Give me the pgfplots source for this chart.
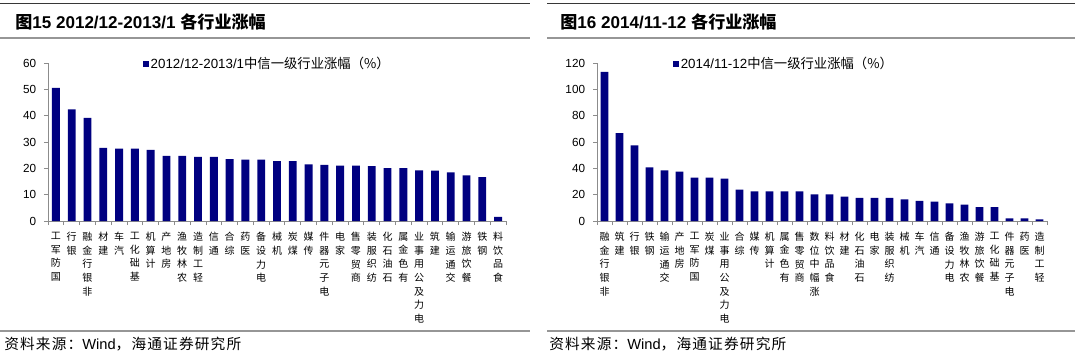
\documentclass[border=0pt]{standalone}
\usepackage{fontspec}
\setmainfont{Liberation Sans}
\newfontfamily\cjk{Noto Sans CJK SC}
\newfontfamily\cjksp[LetterSpace=8]{Noto Sans CJK SC}
\usepackage{pgfplots}
\pgfplotsset{compat=1.18}

\definecolor{barblue}{RGB}{0,0,128}
\definecolor{axgray}{RGB}{140,140,140}
\definecolor{rulegray}{RGB}{150,150,150}
\definecolor{ruledark}{RGB}{55,55,55}

\pgfplotsset{
  panel/.style={
    ybar, bar width=5.9pt,
    scale only axis,
    height=118.5pt,
    ymin=0,
    anchor=south west,
    axis x line*=bottom, axis y line*=left,
    axis line style={axgray, line width=0.6pt},
    tick align=outside,
    major tick length=3pt,
    tick style={axgray, line width=0.6pt},
    x tick label as interval,
    /pgf/number format/assume math mode=true,
    yticklabel style={font=\fontsize{8.8}{10}\selectfont, inner sep=2pt, xshift=-3.75pt},
    xticklabel style={font=\cjk\fontsize{7.5}{10.2}\selectfont, align=center, anchor=north, yshift=-2pt},
    legend image code/.code={\fill[##1] (0pt,-2.4pt) rectangle (4.6pt,2.4pt);},
    legend style={draw=none, fill=none, anchor=west, inner sep=0pt,
      font=\fontsize{10}{12}\selectfont,
      nodes={inner sep=1pt},
      /tikz/every even column/.append style={column sep=0pt}},
  }
}

\begin{document}
\begin{tikzpicture}
\useasboundingbox (0,0) rectangle (810pt,-268.5pt);

% rules
\draw[ruledark, line width=0.9pt] (0pt,-2.5pt) -- (397.5pt,-2.5pt);
\draw[ruledark, line width=0.9pt] (410.25pt,-2.5pt) -- (806.25pt,-2.5pt);
\draw[rulegray, line width=1.5pt] (0pt,-28.5pt) -- (397.5pt,-28.5pt);
\draw[rulegray, line width=1.5pt] (410.25pt,-28.5pt) -- (806.25pt,-28.5pt);
\draw[rulegray, line width=1.1pt] (0pt,-248.25pt) -- (397.5pt,-248.25pt);
\draw[rulegray, line width=1.1pt] (410.25pt,-248.25pt) -- (806.25pt,-248.25pt);

% titles
\node[anchor=base west, inner sep=0pt, font=\fontsize{12.8}{14}\selectfont\bfseries] at (11.25pt,-21pt)
  {{\cjk\bfseries 图}15 2012/12-2013/1 {\cjk\bfseries 各行业涨幅}};
\node[anchor=base west, inner sep=0pt, font=\fontsize{12.8}{14}\selectfont\bfseries] at (420pt,-21pt)
  {{\cjk\bfseries 图}16 2014/11-12 {\cjk\bfseries 各行业涨幅}};

% sources
\node[anchor=base west, inner sep=0pt, font=\fontsize{11}{12}\selectfont] at (3pt,-262pt)
  {{\cjksp 资料来源：}Wind{\cjksp ，海通证券研究所}};
\node[anchor=base west, inner sep=0pt, font=\fontsize{11}{12}\selectfont] at (411.75pt,-262pt)
  {{\cjksp 资料来源：}Wind{\cjksp ，海通证券研究所}};

% left panel
\begin{axis}[panel,
  at={(36pt,-165.75pt)},
  width=343.5pt,
  xmin=-0.5, xmax=28.5, ymax=60,
  ytick={0,10,...,60},
  xtick={-0.5,0.5,...,28.5},
  xticklabels={
    {工\\军\\防\\国},{行\\银},{融\\金\\行\\银\\非},{材\\建},{车\\汽},
    {工\\化\\础\\基},{机\\算\\计},{产\\地\\房},{渔\\牧\\林\\农},{造\\制\\工\\轻},
    {信\\通},{合\\综},{药\\医},{备\\设\\力\\电},{械\\机},
    {炭\\煤},{媒\\传},{件\\器\\元\\子\\电},{电\\家},{售\\零\\贸\\商},
    {装\\服\\织\\纺},{化\\石\\油\\石},{属\\金\\色\\有},{业\\事\\用\\公\\及\\力\\电},{筑\\建},
    {输\\运\\通\\交},{游\\旅\\饮\\餐},{铁\\钢},{料\\饮\\品\\食}},
  legend style={at={(0.2074,0.994)}},
]
\addplot[fill=barblue, draw=none] coordinates {
 (0,50.6) (1,42.4) (2,39.2) (3,27.8) (4,27.5) (5,27.5) (6,27.0) (7,24.7) (8,24.7) (9,24.4)
 (10,24.4) (11,23.5) (12,23.3) (13,23.3) (14,22.7) (15,22.7) (16,21.5) (17,21.3) (18,21.0) (19,21.0)
 (20,20.8) (21,20.1) (22,20.1) (23,19.2) (24,19.1) (25,18.5) (26,17.3) (27,16.7) (28,1.6)};
\addlegendentry{2012/12-2013/1{\cjk 中信一级行业涨幅（\%）}}
\end{axis}

% right panel
\begin{axis}[panel,
  at={(447.75pt,-165.75pt)},
  width=337.5pt,
  xmin=-0.5, xmax=29.5, ymax=120,
  ytick={0,20,...,120},
  xtick={-0.5,0.5,...,29.5},
  xticklabels={
    {融\\金\\行\\银\\非},{筑\\建},{行\\银},{铁\\钢},{输\\运\\通\\交},
    {产\\地\\房},{工\\军\\防\\国},{炭\\煤},{业\\事\\用\\公\\及\\力\\电},{合\\综},
    {媒\\传},{机\\算\\计},{属\\金\\色\\有},{售\\零\\贸\\商},{数\\位\\中\\幅\\涨},
    {料\\饮\\品\\食},{材\\建},{化\\石\\油\\石},{电\\家},{装\\服\\织\\纺},
    {械\\机},{车\\汽},{信\\通},{备\\设\\力\\电},{渔\\牧\\林\\农},
    {游\\旅\\饮\\餐},{工\\化\\础\\基},{件\\器\\元\\子\\电},{药\\医},{造\\制\\工\\轻}},
  legend style={at={(0.169,0.994)}},
]
\addplot[fill=barblue, draw=none] coordinates {
 (0,113.3) (1,66.8) (2,57.5) (3,40.8) (4,38.5) (5,37.5) (6,32.9) (7,32.9) (8,32.2) (9,23.8)
 (10,22.5) (11,22.5) (12,22.5) (13,22.5) (14,20.3) (15,20.3) (16,18.5) (17,17.5) (18,17.5) (19,17.5)
 (20,16.5) (21,15.2) (22,14.7) (23,13.4) (24,12.4) (25,10.6) (26,10.6) (27,2.0) (28,2.0) (29,1.3)};
\addlegendentry{2014/11-12{\cjk 中信一级行业涨幅（\%）}}
\end{axis}
\end{tikzpicture}
\end{document}
